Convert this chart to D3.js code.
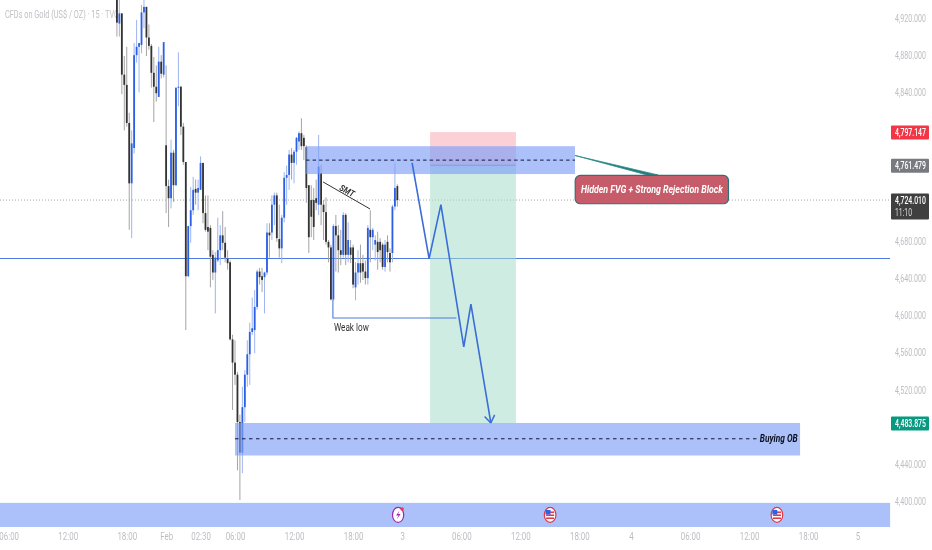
<!DOCTYPE html>
<html><head><meta charset="utf-8">
<script src="https://cdnjs.cloudflare.com/ajax/libs/d3/7.8.5/d3.min.js"></script>
<style>
html,body{margin:0;padding:0;background:#fff;overflow:hidden}
svg{display:block;font-family:Roboto,"Liberation Sans",sans-serif;filter:blur(0.35px)}
</style></head><body><svg id="c" width="932" height="550"></svg>
<script>
const firstSlot = 47;
const opens = [4956,4914,4925,4859,4848,4807,4742,4780,4880,4889,4891,4926,4932,4899,4890,4861,4846,4835,4873,4859,4783,4739,4726,4775,4740,4845,4846,4803,4765,4642,4696,4713,4736,4732,4735,4764,4710,4695,4694,4665,4646,4659,4670,4686,4678,4661,4657,4574,4549,4536,4485,4452,4501,4536,4558,4582,4584,4609,4647,4642,4641,4646,4689,4689,4719,4729,4682,4672,4705,4748,4751,4773,4764,4776,4787,4796,4791,4781,4740,4724,4724,4726,4719,4753,4719,4711,4679,4673,4617,4696,4686,4670,4665,4708,4665,4673,4673,4630,4646,4656,4656,4647,4640,4692,4684,4676,4679,4679,4676,4652,4679,4667,4667,4717,4739];
const highs = [4972,4961,4925,4879,4889,4818,4799,4893,4918,4893,4934,4945,4932,4913,4892,4878,4869,4889,4880,4894,4869,4746,4789,4778,4845,4883,4847,4807,4765,4696,4738,4749,4746,4746,4771,4764,4729,4729,4697,4670,4668,4705,4697,4712,4695,4670,4659,4579,4573,4539,4493,4523,4541,4573,4592,4619,4627,4649,4651,4651,4647,4699,4699,4729,4732,4732,4719,4708,4754,4761,4778,4780,4778,4792,4798,4812,4794,4783,4740,4740,4737,4746,4794,4762,4724,4727,4681,4676,4698,4708,4697,4692,4711,4710,4700,4681,4676,4657,4670,4676,4665,4659,4697,4713,4694,4686,4690,4683,4678,4681,4686,4672,4719,4764,4741];
const lows = [4900,4900,4838,4799,4803,4692,4683,4774,4872,4840,4882,4909,4879,4886,4845,4808,4830,4835,4855,4856,4710,4695,4715,4722,4739,4825,4794,4762,4584,4641,4678,4708,4719,4713,4735,4699,4690,4670,4630,4638,4602,4657,4654,4670,4657,4649,4573,4498,4525,4433,4401,4430,4485,4523,4525,4579,4559,4606,4633,4625,4602,4643,4662,4681,4697,4679,4662,4656,4700,4719,4735,4746,4742,4762,4778,4778,4767,4721,4667,4684,4681,4713,4708,4697,4681,4676,4657,4616,4616,4647,4646,4654,4662,4654,4657,4656,4629,4616,4633,4635,4638,4633,4633,4657,4670,4659,4649,4657,4649,4647,4657,4647,4657,4713,4717];
const closes = [4915,4925,4859,4848,4807,4742,4785,4880,4889,4893,4926,4932,4899,4890,4861,4846,4839,4873,4860,4894,4739,4726,4775,4740,4845,4846,4803,4765,4642,4696,4713,4735,4732,4737,4764,4710,4692,4690,4663,4646,4662,4670,4686,4678,4662,4656,4574,4549,4536,4485,4452,4501,4536,4558,4582,4586,4609,4647,4641,4638,4646,4689,4686,4719,4729,4683,4672,4705,4748,4751,4773,4764,4776,4791,4796,4782,4782,4737,4684,4706,4695,4721,4760,4719,4711,4679,4673,4617,4696,4686,4670,4665,4708,4665,4681,4665,4633,4646,4656,4646,4647,4640,4694,4684,4692,4681,4668,4670,4652,4676,4668,4657,4717,4737,4724];

const priceTicks = [4920,4880,4840,4680,4640,4600,4560,4520,4440,4400];
const timeSlots = [3,27,51,67,81,95,119,143,163,187,211,235,256,280,304,328,348];
const timeLabels = ["06:00","12:00","18:00","Feb","02:30","06:00","12:00","18:00","3","06:00","12:00","18:00","4","06:00","12:00","18:00","5"];

const topBand = {slots:[123.9,233.2], prices:[4782,4752], mid:4767};
const stopBox = {slots:[174.3,209.2], prices:[4797.147,4761.479]};
const targetBox = {slots:[174.3,209.2], prices:[4761.479,4483.875]};
const bottomBand = {slots:[95,324.7], prices:[4484,4449], mid:4467, midEnd:307.5};
const strip = {slots:[-1,361.3], prices:[4398,4372]};
const levelPrice = 4661;
const lastPrice = 4724.01;
const arrowPath = [[167,4764],[173.9,4661],[178.7,4719],[188,4566],[190.9,4612],[199,4484]];
const smtLine = [[130.8,4743.5],[149.9,4714.4]];
const weakLow = [[134.8,4617],[134.8,4597],[185,4597]];
const priceTags = [
  {label:"4,797.147",price:4797.147,fill:"#f23645",h:14},
  {label:"4,761.479",price:4761.479,fill:"#777b80",h:14},
  {label:"4,483.875",price:4483.875,fill:"#089981",h:14}
];

const x = d3.scaleLinear().domain([0,100]).range([1.3,247.3]);
const y = d3.scaleLinear().domain([4920,4400]).range([18,501]);
const svg = d3.select("#c");
const UP="#2a5fe6", DOWN="#333333", WUP="#9db4f0", WDOWN="#a4a4a4";

// squeeze a text horizontally about its own anchor so it takes the given width
function squeeze(sel,width,ax){
  sel.each(function(){
    const n=this.getComputedTextLength();
    const s=width/n, t=d3.select(this);
    const px=+(t.attr("x")||0);
    t.attr("transform",`translate(${px*(1-s)},0) scale(${s},1)`);
  });
  return sel;
}

// title
squeeze(svg.append("text").attr("x",5).attr("y",18).attr("font-size",11.5).attr("fill","#bfc1c5")
  .text("CFDs on Gold (US$ / OZ) · 15 · TVC"),114);

// level lines
svg.append("line").attr("x1",0).attr("x2",890).attr("y1",y(lastPrice)).attr("y2",y(lastPrice))
  .attr("stroke","#a8a8a8").attr("stroke-dasharray","1 2");
svg.append("line").attr("x1",0).attr("x2",890).attr("y1",y(levelPrice)).attr("y2",y(levelPrice))
  .attr("stroke","#4f7be0").attr("stroke-width",1.1);

// candles
const candles = opens.map((o,i)=>({slot:firstSlot+i,o,h:highs[i],l:lows[i],c:closes[i]}));
const g = svg.append("g");
g.selectAll(".w").data(candles).join("line").attr("class","w")
  .attr("x1",d=>x(d.slot)).attr("x2",d=>x(d.slot)).attr("y1",d=>y(d.h)).attr("y2",d=>y(d.l))
  .attr("stroke",d=>d.c>=d.o?WUP:WDOWN).attr("stroke-width",1);
g.selectAll(".b").data(candles).join("rect").attr("class","b")
  .attr("x",d=>x(d.slot)-0.9).attr("width",1.8)
  .attr("y",d=>y(Math.max(d.o,d.c))).attr("height",d=>Math.max(1,Math.abs(y(d.o)-y(d.c))))
  .attr("fill",d=>d.c>=d.o?UP:DOWN);

function box(b,fill,op){
  return svg.append("rect").attr("x",x(b.slots[0])).attr("width",x(b.slots[1])-x(b.slots[0]))
    .attr("y",y(b.prices[0])).attr("height",y(b.prices[1])-y(b.prices[0]))
    .attr("fill",fill).attr("fill-opacity",op);
}
// position tool
box(stopBox,"#f7a9b4",0.55);
box(targetBox,"#a6dccb",0.55);
svg.append("line").attr("x1",x(stopBox.slots[0])).attr("x2",x(stopBox.slots[1]))
  .attr("y1",y(stopBox.prices[1])).attr("y2",y(stopBox.prices[1])).attr("stroke","#8a8fa8").attr("stroke-width",1);
// bands
box(topBand,"#7f9ff8",0.65);
box(bottomBand,"#7f9ff8",0.65);
box(strip,"#7f9ff8",0.65);
svg.append("line").attr("x1",x(topBand.slots[0])).attr("x2",x(topBand.slots[1]))
  .attr("y1",y(topBand.mid)).attr("y2",y(topBand.mid)).attr("stroke","#11163a").attr("stroke-width",1).attr("stroke-dasharray","3.5 3");
svg.append("line").attr("x1",x(bottomBand.slots[0])).attr("x2",x(bottomBand.midEnd))
  .attr("y1",y(bottomBand.mid)).attr("y2",y(bottomBand.mid)).attr("stroke","#11163a").attr("stroke-width",1).attr("stroke-dasharray","3.5 3.5");
squeeze(svg.append("text").attr("x",x(bottomBand.midEnd)+2).attr("y",y(bottomBand.mid)+3.5).attr("font-size",11)
  .attr("font-weight",700).attr("font-style","italic").attr("fill","#0c1020").text("Buying OB"),38);

// drawings
const lineGen = d3.line().x(d=>x(d[0])).y(d=>y(d[1]));
svg.append("path").attr("d",lineGen(arrowPath)).attr("fill","none").attr("stroke","#3a6dd8").attr("stroke-width",1.6);
const pA=arrowPath[arrowPath.length-2], pB=arrowPath[arrowPath.length-1];
const ang=Math.atan2(y(pB[1])-y(pA[1]),x(pB[0])-x(pA[0]));
[0.6,-0.6].forEach(t=>svg.append("line").attr("x1",x(pB[0])).attr("y1",y(pB[1]))
  .attr("x2",x(pB[0])-9*Math.cos(ang+t)).attr("y2",y(pB[1])-9*Math.sin(ang+t))
  .attr("stroke","#3a6dd8").attr("stroke-width",1.5));
svg.append("path").attr("d",lineGen(smtLine)).attr("fill","none").attr("stroke","#333").attr("stroke-width",1);
svg.append("text").attr("transform",`translate(${x(140)},${y(4730)-1}) rotate(28) scale(0.85,1)`).attr("text-anchor","middle")
  .attr("font-size",9).attr("font-style","italic").attr("font-weight",700).attr("fill","#333").text("SMT");
svg.append("path").attr("d",lineGen(weakLow)).attr("fill","none").attr("stroke","#4f7be0").attr("stroke-width",1.1);
squeeze(svg.append("text").attr("x",x(134.8)+1).attr("y",y(4597)+13).attr("font-size",11).attr("fill","#333").text("Weak low"),35);

// callout
const cb = {slots:[233.3,295.6], prices:[4750.5,4720]};
svg.append("path").attr("d",d3.line()([[x(233.2),y(4772)],[x(262.5),y(4751)],[x(267),y(4751)]])+"Z")
  .attr("fill","#2a7a7a").attr("stroke","#2a8a8a").attr("stroke-width",0.8);
svg.append("rect").attr("x",x(cb.slots[0])).attr("width",x(cb.slots[1])-x(cb.slots[0]))
  .attr("y",y(cb.prices[0])).attr("height",y(cb.prices[1])-y(cb.prices[0])).attr("rx",5)
  .attr("fill","#c65c69").attr("stroke","#2f6f78").attr("stroke-width",1.2);
const cbX=(x(cb.slots[0])+x(cb.slots[1]))/2;
svg.append("text").attr("transform",`translate(${cbX},${(y(cb.prices[0])+y(cb.prices[1]))/2+3.5}) scale(0.8,1)`)
  .attr("text-anchor","middle").attr("font-size",11).attr("font-weight",700).attr("font-style","italic").attr("fill","#fff")
  .text("Hidden FVG + Strong Rejection Block");

// axes
const yAxis = d3.axisRight(y).tickValues(priceTicks).tickSize(0).tickPadding(0)
  .tickFormat(d=>d3.format(",.3f")(d));
const ya = svg.append("g").attr("transform","translate(895,0)").call(yAxis);
ya.select(".domain").remove();
squeeze(ya.selectAll("text").attr("fill","#bcbec2").attr("font-size",11).attr("font-family","Roboto"),31);

const xAxis = d3.axisBottom(x).tickValues(timeSlots).tickSize(0).tickPadding(0)
  .tickFormat(d=>timeLabels[timeSlots.indexOf(d)]);
const xa = svg.append("g").attr("transform","translate(0,532)").call(xAxis);
xa.select(".domain").remove();
xa.selectAll("text").attr("fill","#bcbec2").attr("font-size",11).attr("font-family","Roboto")
  .each(function(){const n=this.getComputedTextLength();d3.select(this).attr("transform",`scale(0.72,1)`);});

// price tags
priceTags.forEach(t=>{
  svg.append("rect").attr("x",891).attr("width",38).attr("y",y(t.price)-t.h/2+0.5).attr("height",t.h).attr("rx",1).attr("fill",t.fill);
  squeeze(svg.append("text").attr("x",895).attr("y",y(t.price)+4).attr("font-size",11).attr("font-weight",500).attr("fill","#fff").text(t.label),31);
});
svg.append("rect").attr("x",891).attr("width",38).attr("y",y(lastPrice)-6.5).attr("height",26).attr("rx",1).attr("fill","#3f3f3f");
squeeze(svg.append("text").attr("x",895).attr("y",y(lastPrice)+4).attr("font-size",11).attr("font-weight",500).attr("fill","#fff").text("4,724.010"),31);
squeeze(svg.append("text").attr("x",895).attr("y",y(lastPrice)+16).attr("font-size",11).attr("fill","#ddd").text("11:10"),17);

// event icons on the time axis strip
const eventSlots = {flash:[161.3], flag:[223.1,315.3]};
const iconY = y(4385);
eventSlots.flash.forEach(s=>{
  const i=svg.append("g").attr("transform",`translate(${x(s)},${iconY})`);
  i.append("ellipse").attr("rx",5.6).attr("ry",7.5).attr("fill","#fff").attr("stroke","#9c27b0").attr("stroke-width",1.2);
  i.append("path").attr("d","M1.5,-4.5 L-2,0.5 L0.5,0.5 L-1.5,4.5 L2.5,-1 L0,-1 Z").attr("fill","#9c27b0");
  i.append("circle").attr("cx",4).attr("cy",-6).attr("r",1.8).attr("fill","#f23645");
});
eventSlots.flag.forEach(s=>{
  const i=svg.append("g").attr("transform",`translate(${x(s)},${iconY})`);
  i.append("ellipse").attr("rx",5.8).attr("ry",7.5).attr("fill","#fff").attr("stroke","#e0394a").attr("stroke-width",1.2);
  i.append("rect").attr("x",-4).attr("y",-3.5).attr("width",8).attr("height",1.6).attr("fill","#e0394a");
  i.append("rect").attr("x",-4).attr("y",-0.5).attr("width",8).attr("height",1.6).attr("fill","#e0394a");
  i.append("rect").attr("x",-4).attr("y",2.5).attr("width",8).attr("height",1.6).attr("fill","#e0394a");
  i.append("rect").attr("x",-4.6).attr("y",-5).attr("width",5).attr("height",4.6).attr("fill","#2f62e0");
});
</script></body></html>
